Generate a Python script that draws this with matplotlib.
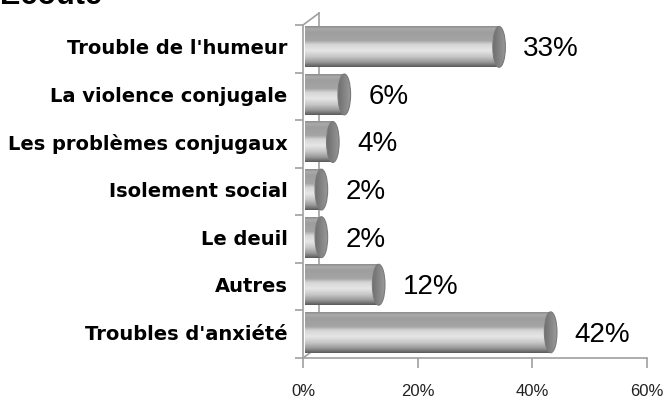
import numpy as np
import matplotlib
matplotlib.use("Agg")
import matplotlib.pyplot as plt
from matplotlib.colors import LinearSegmentedColormap
from matplotlib.patches import Ellipse

# données (du haut vers le bas)
categories = ["Trouble de l'humeur", "La violence conjugale", "Les problèmes conjugaux",
              "Isolement social", "Le deuil", "Autres", "Troubles d'anxiété"]
values = [33, 6, 4, 2, 2, 12, 42]
value_labels = ["33%", "6%", "4%", "2%", "2%", "12%", "42%"]
xticks = [0, 20, 40, 60]
xtick_labels = ["0%", "20%", "40%", "60%"]
title = "Écoute"

body_cmap = LinearSegmentedColormap.from_list("cyl", [
    (0.00, "#8c8c8c"), (0.06, "#aaaaaa"), (0.15, "#9e9e9e"), (0.35, "#a4a4a4"),
    (0.45, "#d6d6d6"), (0.60, "#e6e6e6"), (0.75, "#c6c6c6"), (0.88, "#9a9a9a"),
    (1.00, "#5a5a5a")])
cap_cmap = LinearSegmentedColormap.from_list("cap", ["#6e6e6e", "#9a9a9a"])

fig = plt.figure(figsize=(6.64, 4.01), dpi=100)
ax = fig.add_axes([303 / 664, 1 - 358 / 401, (647 - 303) / 664, (358 - 25) / 401])

n = len(categories)
ypos = [n - 1 - i + 0.04 for i in range(n)]
h = 0.86
cap_w = 2.2
depth_x, depth_y = 2.8, 0.25
grad = np.linspace(0, 1, 128).reshape(-1, 1)
capgrad = np.linspace(0, 1, 64).reshape(1, -1)

# murs 3D
wall = "#a0a0a0"
ax.plot([0, depth_x], [n - 0.5, n - 0.5 + depth_y], color=wall, lw=1.2, clip_on=False, zorder=1)
ax.plot([depth_x, depth_x], [n - 0.5 + depth_y, -0.5 + depth_y], color=wall, lw=1.2, clip_on=False, zorder=1)
ax.plot([0, depth_x], [-0.5, -0.5 + depth_y], color=wall, lw=1.2, clip_on=False, zorder=1)

for y, v, lab in zip(ypos, values, value_labels):
    x0, x1 = 0.3, v + 1.2
    ax.imshow(grad, cmap=body_cmap, extent=[x0, x1, y - h / 2, y + h / 2],
              aspect="auto", origin="upper", zorder=2, interpolation="bilinear")
    cap = Ellipse((x1, y), cap_w, h, facecolor="none", edgecolor="none", zorder=3)
    ax.add_patch(cap)
    im = ax.imshow(capgrad, cmap=cap_cmap, extent=[x1 - cap_w / 2, x1 + cap_w / 2, y - h / 2, y + h / 2],
                   aspect="auto", zorder=3, interpolation="bilinear")
    im.set_clip_path(cap)
    ax.add_patch(Ellipse((x1, y), cap_w, h, facecolor="none", edgecolor="#7a7a7a", lw=0.8, zorder=4))
    ax.text(x1 + 4.2, y - 0.05, lab, fontsize=20, family="Liberation Sans",
            va="center", ha="left", color="black")

ax.set_xlim(0, 60)
ax.set_ylim(-0.5, n - 0.5)

for s in ["top", "right"]:
    ax.spines[s].set_visible(False)
for s in ["left", "bottom"]:
    ax.spines[s].set_color(wall)
    ax.spines[s].set_linewidth(1.2)
    ax.spines[s].set_zorder(5)

ax.set_xticks(xticks)
ax.set_xticklabels(xtick_labels, fontsize=12, family="Liberation Sans", color="#222222")
ax.tick_params(axis="x", length=7, color=wall, width=1.2, pad=12)

# séparateurs de catégories
ax.set_yticks([k + 0.5 for k in range(-1, n)])
ax.set_yticklabels([])
ax.tick_params(axis="y", length=6, color=wall, width=1.2)
ax.set_yticks(ypos, minor=True)
ax.set_yticklabels(categories, minor=True, fontsize=14, fontweight="bold",
                   family="DejaVu Sans")
ax.tick_params(axis="y", which="minor", length=0, pad=11)

fig.text(0.0, 1 - 4 / 401, title, fontsize=22, fontweight="bold",
         family="Liberation Sans", ha="left", va="baseline")

fig.savefig("out.png", dpi=100)
